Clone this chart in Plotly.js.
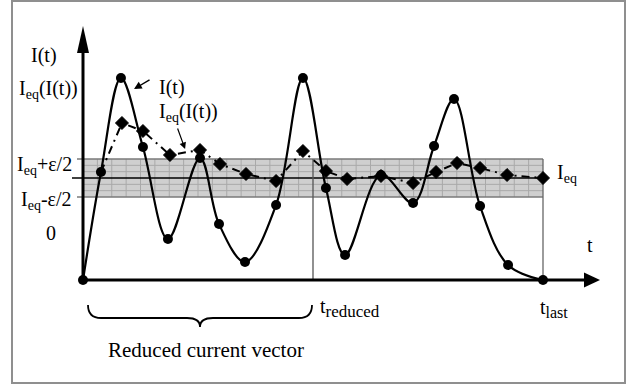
<!DOCTYPE html>
<html>
<head>
<meta charset="utf-8">
<script src="https://cdn.plot.ly/plotly-3.0.1.min.js"></script>
<style>html,body{margin:0;padding:0;background:#fff;}#chart{width:630px;height:385px;}</style>
</head>
<body>
<div id="chart"></div>
<script>
// ---- data (t in grid cells, I in arbitrary units) ----
const tCurrent = [0, 1.25, 2.64, 4.17, 5.91, 8.14, 9.46, 11.27, 13.43, 15.30, 16.90, 18.23, 20.73, 22.96, 24.42, 25.81, 27.62, 29.57, 32];
const current  = [0, 108, 202, 133, 41, 122, 56, 18, 75, 202, 92, 25, 105, 77, 134, 181, 74, 15, 0];
const tEq      = [1.25, 2.71, 4.17, 6.05, 8.14, 9.53, 11.34, 13.43, 15.30, 16.90, 18.37, 20.73, 22.96, 24.56, 26.02, 27.62, 29.50, 32];
const currentEq = [108, 157, 149, 125, 130, 116, 106, 99, 129, 109, 101, 104, 97, 108, 117, 112, 105, 102];
const Ieq = 102;
const halfEps = 19;
const tReduced = 16;
const tLast = 32;
const gridCols = 32;
const gridRows = 6;

// ---- geometry of the drawing ----
const pxPerT = 14.375;          // horizontal scale
const originPx = 83;            // where t = 0 sits
const originPy = 280;           // where I = 0 sits
const W = 630, H = 385;
const xRange = [-originPx / pxPerT, (W - originPx) / pxPerT];
const yRange = [originPy - H, originPy];
const pxT = pxPerT; // px per t-unit, 1 px per I-unit

const FONT = 'Liberation Serif, Times New Roman, serif';
const shapes = [];

// band
const bandLo = Ieq - halfEps, bandHi = Ieq + halfEps;
shapes.push({type:'rect', layer:'below', xref:'x', yref:'y', x0:0, x1:tLast, y0:bandLo, y1:bandHi,
  fillcolor:'#cfcfcf', line:{width:0}});
for (let i = 1; i < gridCols; i++) {
  const xv = i * tLast / gridCols;
  if (xv === tReduced) continue;
  shapes.push({type:'line', layer:'below', xref:'x', yref:'y', x0:xv, x1:xv, y0:bandLo, y1:bandHi,
    line:{color:'#a9a9a9', width:1}});
}
for (let j = 1; j < gridRows; j++) {
  const yv = bandLo + j * (bandHi - bandLo) / gridRows;
  if (j === gridRows / 2) continue;
  shapes.push({type:'line', layer:'below', xref:'x', yref:'y', x0:0, x1:tLast, y0:yv, y1:yv,
    line:{color:'#a9a9a9', width:1}});
}
// band borders
[bandLo, bandHi].forEach(v => shapes.push({type:'line', layer:'below', xref:'x', yref:'y',
  x0:-6/pxT, x1:tLast, y0:v, y1:v, line:{color:'#7a7a7a', width:1.5}}));
// Ieq line
shapes.push({type:'line', layer:'below', xref:'x', yref:'y', x0:-11/pxT, x1:tLast, y0:Ieq, y1:Ieq,
  line:{color:'#000', width:1.3}});
// t_reduced and t_last verticals
shapes.push({type:'line', layer:'below', xref:'x', yref:'y', x0:tReduced, x1:tReduced, y0:0, y1:bandHi,
  line:{color:'#555', width:1.3}});
shapes.push({type:'line', layer:'below', xref:'x', yref:'y', x0:tLast, x1:tLast, y0:0, y1:bandHi,
  line:{color:'#666', width:1.3}});

// axes
const yAxisTip = 254, yAxisBase = 227;
const xAxisTip = (600 - originPx) / pxT, xAxisBase = (584 - originPx) / pxT;
shapes.push({type:'line', xref:'x', yref:'y', x0:0, x1:0, y0:0, y1:yAxisBase+1, line:{color:'#000', width:3}});
shapes.push({type:'line', xref:'x', yref:'y', x0:0, x1:xAxisBase+0.05, y0:0, y1:0, line:{color:'#000', width:3}});
shapes.push({type:'path', xref:'x', yref:'y', fillcolor:'#000', line:{width:0},
  path:`M ${-6/pxT},${yAxisBase} L 0,${yAxisTip} L ${6/pxT},${yAxisBase} Z`});
shapes.push({type:'path', xref:'x', yref:'y', fillcolor:'#000', line:{width:0},
  path:`M ${xAxisBase},${7.5} L ${xAxisTip},0 L ${xAxisBase},${-7.5} Z`});

// brace under the reduced part
(function(){
  const L = 5/pxT, R = tReduced - 1/pxT, M = (L + R) / 2, r = 13/pxT;
  const yEnd = -25, yFlat = -38, yTip = -47;
  shapes.push({type:'path', xref:'x', yref:'y', line:{color:'#000', width:1.8},
    path:`M ${L},${yEnd} Q ${L},${yFlat} ${L+r},${yFlat} L ${M-r},${yFlat} Q ${M},${yFlat} ${M},${yTip} ` +
         `Q ${M},${yFlat} ${M+r},${yFlat} L ${R-r},${yFlat} Q ${R},${yFlat} ${R},${yEnd}`});
})();

// outer frame
shapes.push({type:'rect', xref:'paper', yref:'paper', x0:12/W, x1:625/W, y0:1-383/H, y1:1-1/H,
  line:{color:'#8f8f8f', width:2}, fillcolor:'rgba(0,0,0,0)'});

const traces = [
  {x:tCurrent, y:current, mode:'lines+markers', line:{shape:'spline', smoothing:1, color:'#000', width:2.2},
   marker:{symbol:'circle', size:10, color:'#000'}, hoverinfo:'skip'},
  {x:tEq, y:currentEq, mode:'lines+markers', line:{color:'#000', width:2, dash:'8px,5px,2px,5px'},
   marker:{symbol:'diamond', size:tEq.map((v,i)=> i===0 ? 0 : 10), color:'#000', opacity:1,
           line:{color:'#000', width:tEq.map((v,i)=> i===0 ? 0 : 1)}}, hoverinfo:'skip'}
];

const fs = 20;
function sub(s, size) { return `<sub><span style="font-size:${size}px">${s}</span></sub>`; }
function ann(text, x, y, xanchor, extra) {
  return Object.assign({text, x, y, xref:'x', yref:'y', xanchor:xanchor||'center', yanchor:'middle',
    showarrow:false, font:{family:FONT, size:fs, color:'#000'}}, extra||{});
}
const annotations = [
  ann('I(t)', -2.68, 225),
  ann('I' + sub('eq',14) + '(I(t))', -0.21, 191, 'right'),
  ann('I(t)', 5.15, 193, 'left'),
  ann('I' + sub('eq',14) + '(I(t))', 5.15, 168, 'left'),
  ann('I' + sub('eq',14) + '+ε/2', -0.63, 115, 'right'),
  ann('I' + sub('eq',14) + '-ε/2', -0.63, 80, 'right'),
  ann('0', -2.23, 47),
  ann('t', 35.27, 35),
  ann('t' + sub('reduced',17), 16.35, -28, 'left'),
  ann('t' + sub('last',16), 31.65, -28, 'left'),
  ann('I' + sub('eq',14), 32.83, 107, 'left'),
  ann('Reduced current vector', 8.56, -70, 'center', {font:{family:FONT, size:21, color:'#000'}}),
  // pointer arrows
  {text:'', x:3.55, y:191, xref:'x', yref:'y', showarrow:true, arrowhead:2, arrowsize:1.1, arrowwidth:1.4,
   arrowcolor:'#000', ax:17, ay:-10},
  {text:'', x:7.1, y:131, xref:'x', yref:'y', showarrow:true, arrowhead:2, arrowsize:1.1, arrowwidth:1.2,
   arrowcolor:'#000', ax:-8, ay:-22}
];

const layout = {
  width:W, height:H, margin:{l:0, r:0, t:0, b:0, pad:0},
  paper_bgcolor:'#fff', plot_bgcolor:'#fff', showlegend:false, hovermode:false,
  xaxis:{range:xRange, visible:false, fixedrange:true},
  yaxis:{range:yRange, visible:false, fixedrange:true},
  shapes, annotations
};
Plotly.newPlot('chart', traces, layout, {displayModeBar:false});
</script>
</body>
</html>
